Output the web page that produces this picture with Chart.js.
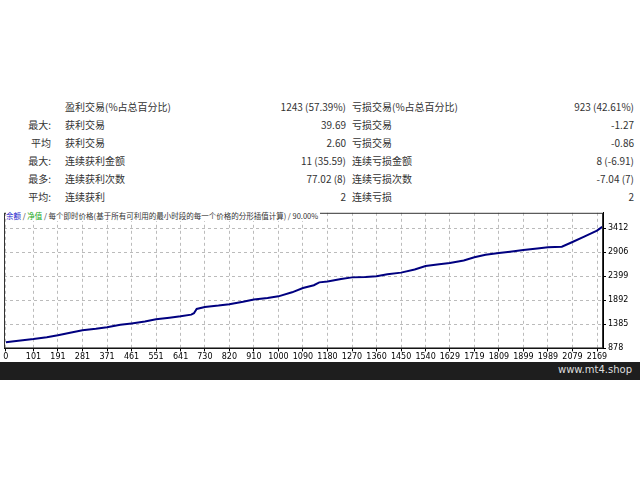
<!DOCTYPE html>
<html>
<head>
<meta charset="utf-8">
<script src="https://cdn.jsdelivr.net/npm/chart.js@4/dist/chart.umd.min.js"></script>
<style>
body { margin:0; width:640px; height:480px; background:#fff; position:relative; overflow:hidden; font-family:"Noto Sans CJK SC", sans-serif; }
.t { position:absolute; font-size:10px; color:#333; white-space:nowrap; line-height:12px; }
.r { text-align:right; }
#wrap { position:absolute; left:0; top:206px; width:640px; height:157px; }
#hdr { position:absolute; left:6px; top:210px; font-size:7.5px; color:#333; white-space:nowrap; background:#fff; padding-right:2px; }
#foot { position:absolute; left:0; top:362px; width:640px; height:18px; background:#1e1e1e; }
#foot span { position:absolute; right:8px; top:2px; color:#ddd; font-family:"DejaVu Sans"; font-size:10px; }
</style>
</head>
<body>
<div id="tbl"></div>
<div id="wrap"><canvas id="c"></canvas></div>
<div id="hdr"><span style="color:#22c">余额</span> / <span style="color:#2a2">净值</span> / 每个即时价格(基于所有可利用的最小时段的每一个价格的分形插值计算) / 90.00%</div>
<div id="foot"><span>www.mt4.shop</span></div>
<script>
const rowPrefix = ['', '最大:', '平均', '最大:', '最多:', '平均:'];
const leftLabels = ['盈利交易(%占总百分比)', '获利交易', '获利交易', '连续获利金额', '连续获利次数', '连续获利'];
const leftValues = ['1243 (57.39%)', '39.69', '2.60', '11 (35.59)', '77.02 (8)', '2'];
const rightLabels = ['亏损交易(%占总百分比)', '亏损交易', '亏损交易', '连续亏损金额', '连续亏损次数', '连续亏损'];
const rightValues = ['923 (42.61%)', '-1.27', '-0.86', '8 (-6.91)', '-7.04 (7)', '2'];

const trades = [0, 30, 101, 150, 191, 240, 281, 330, 371, 420, 461, 510, 551, 600, 641, 680, 690, 700, 730, 780, 820, 870, 910, 960, 1000, 1050, 1090, 1130, 1150, 1180, 1230, 1270, 1320, 1360, 1400, 1450, 1500, 1540, 1590, 1629, 1680, 1719, 1760, 1809, 1850, 1899, 1950, 1989, 2040, 2079, 2120, 2169, 2188];
const balance = [1010, 1030, 1075, 1115, 1155, 1215, 1260, 1290, 1325, 1375, 1405, 1445, 1490, 1525, 1555, 1590, 1620, 1710, 1750, 1780, 1810, 1860, 1910, 1940, 1975, 2060, 2150, 2210, 2270, 2290, 2340, 2375, 2385, 2400, 2440, 2475, 2540, 2615, 2650, 2680, 2730, 2800, 2850, 2890, 2915, 2950, 2985, 3010, 3020, 3120, 3230, 3360, 3440];
const xTicks = [0, 101, 191, 281, 371, 461, 551, 641, 730, 820, 910, 1000, 1090, 1180, 1270, 1360, 1450, 1540, 1629, 1719, 1809, 1899, 1989, 2079, 2169];
const yTicks = [878, 1385, 1892, 2399, 2906, 3412];

let html = '';
const rowY = [101, 119, 137, 155, 173, 191];
rowPrefix.forEach((p, i) => {
  const y = rowY[i];
  html += `<div class="t r" style="top:${y}px;right:${640-51}px">${p}</div>`;
  html += `<div class="t" style="top:${y}px;left:65px">${leftLabels[i]}</div>`;
  html += `<div class="t r" style="top:${y}px;right:${640-346}px">${leftValues[i]}</div>`;
  html += `<div class="t" style="top:${y}px;left:352px">${rightLabels[i]}</div>`;
  html += `<div class="t r" style="top:${y}px;right:6px">${rightValues[i]}</div>`;
});
document.getElementById('tbl').innerHTML = html;

new Chart(document.getElementById('c'), {
  type: 'line',
  data: {
    datasets: [{
      data: trades.map((t, i) => ({ x: t, y: balance[i] })),
      borderColor: '#000080',
      borderWidth: 2,
      pointRadius: 0,
      tension: 0
    }]
  },
  options: {
    responsive: true, maintainAspectRatio: false, animation: false,
    layout: { padding: { left: 4, top: 2, right: 0, bottom: 0 } },
    plugins: { legend: { display: false }, tooltip: { enabled: false } },
    scales: {
      x: {
        type: 'linear', min: -7, max: 2191,
        afterBuildTicks: a => { a.ticks = xTicks.map(v => ({ value: v })); },
        ticks: { font: { size: 8, family: 'DejaVu Sans' }, color: '#000', maxRotation: 0, autoSkip: false, padding: 1, callback: v => String(v) },
        grid: { color: '#bbb', tickLength: 3, tickColor: '#000' },
        border: { color: '#000', dash: [3, 3] }
      },
      y: {
        position: 'right', min: 878, max: 3736,
        afterBuildTicks: a => { a.ticks = yTicks.map(v => ({ value: v })); },
        afterFit: a => { a.width = 37; },
        ticks: { font: { size: 8, family: 'DejaVu Sans' }, color: '#000', padding: 2, callback: v => String(v) },
        grid: { color: '#bbb', tickLength: 3, tickColor: '#000' },
        border: { color: '#000', dash: [3, 3] }
      }
    }
  },
  plugins: [{
    id: 'frame',
    beforeDraw(c) {
      const a = c.chartArea, g = c.ctx;
      g.save(); g.fillStyle = '#fff'; g.fillRect(a.left, a.top, a.width, a.height); g.restore();
    },
    afterDraw(c) {
      const a = c.chartArea, g = c.ctx;
      g.save(); g.strokeStyle = '#333'; g.lineWidth = 1;
      g.strokeRect(a.left + 0.5, a.top + 0.5, a.width - 1, a.height - 1); g.restore();
    }
  }]
});
</script>
</body>
</html>
